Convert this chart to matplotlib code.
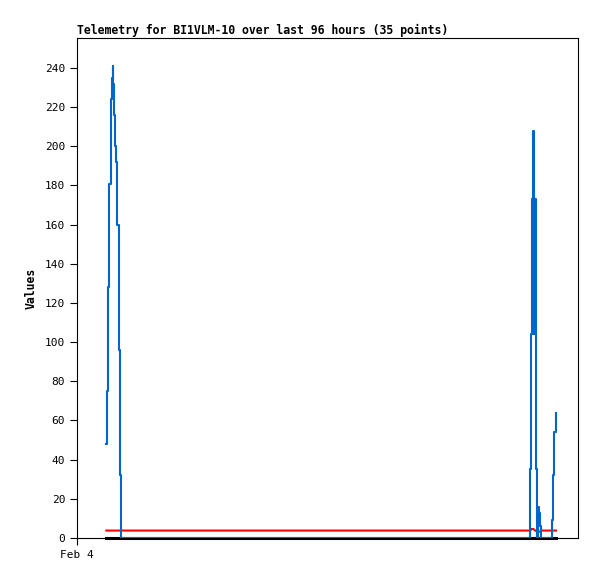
import matplotlib
matplotlib.use("Agg")
from matplotlib import pyplot as plt

# minutes since Feb 4 00:00
minutes = [84.2, 85.4, 89.1, 92.8, 96.3, 98.6, 100.6, 102.6, 104.3, 107.2,
           110.1, 112.1, 115.8, 119.8, 123.6, 126.5,
           1303.4, 1305.7, 1307.7, 1309.7, 1311.4, 1313.4, 1315.4, 1317.2,
           1318.6, 1319.7, 1321.2, 1324.3, 1327.8, 1330.7, 1335.0,
           1365.2, 1368.6, 1372.0, 1376.6]

values = [48, 75, 128, 181, 213, 224, 235, 241, 232, 216,
          200, 192, 160, 96, 32, 0,
          35, 104, 173, 104, 208, 173, 104, 173,
          104, 35, 0, 16, 13, 6, 0,
          9, 32, 54, 64]

red_values = [3.8] * 16 + [3.8, 4.6, 4.6, 4.6, 4.6, 4.4, 4.0, 3.8,
                           3.8, 3.6, 3.4, 3.1, 3.1, 3.4, 3.8,
                           3.8, 3.8, 3.8, 3.8]

zero_values = [0] * 35

yticks = list(range(0, 241, 20))


def plotData(fileName):
    fig = plt.figure(figsize=(5.97, 5.79), dpi=100)
    ax = fig.add_axes([77 / 597, 41 / 579, 501 / 597, 500 / 579])

    ax.plot(minutes, zero_values, color="black", linewidth=2.2, clip_on=False, zorder=3)
    ax.plot(minutes, red_values, color="#ff0000", linewidth=1.5, zorder=3)
    ax.plot(minutes, values, color="#0066cc", linewidth=1.5, drawstyle="steps-post", zorder=4)

    ax.set_xlim(0, 1440)
    ax.set_ylim(0, 255.3)
    ax.set_yticks(yticks)
    ax.set_yticklabels([str(v) for v in yticks], fontsize=8, family="DejaVu Sans Mono")
    ax.set_xticks([0])
    ax.set_xticklabels(["Feb 4"], fontsize=8, family="DejaVu Sans Mono")
    ax.tick_params(direction="out", length=5, width=0.8)

    for s in ax.spines.values():
        s.set_linewidth(0.8)

    ax.set_title("Telemetry for BI1VLM-10 over last 96 hours (35 points)",
                 loc="left", fontsize=8.3, fontweight="bold", family="DejaVu Sans Mono", pad=3)
    ax.set_ylabel("Values", fontsize=8.3, fontweight="bold", family="DejaVu Sans Mono", labelpad=5)

    fig.savefig(fileName, dpi=100)


plotData("out.png")
